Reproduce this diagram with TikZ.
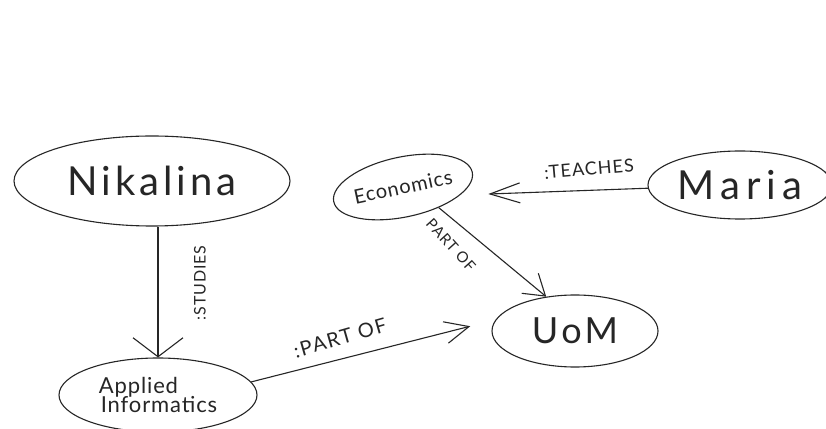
\documentclass[tikz,border=0pt]{standalone}
\usepackage{fontspec}
\setmainfont{Lato}
\usetikzlibrary{shapes.geometric,arrows.meta}
\definecolor{ink}{HTML}{262626}
\newcommand{\fsz}[2]{\fontsize{#1}{#1}\selectfont\addfontfeatures{LetterSpace=#2}}
\tikzset{
  ent/.style={ellipse, draw=ink, line width=1.1pt, inner sep=0pt, text=ink, align=left},
  rel/.style={draw=ink, line width=1.1pt},
  lbl/.style={text=ink, inner sep=1pt},
}
\begin{document}
\begin{tikzpicture}[x=1pt,y=1pt]
  \useasboundingbox[fill=white] (0,0) rectangle (826,428);

  % entities
  \node[ent, minimum width=276, minimum height=90,
        font=\fsz{40}{10}] (nik) at (152,247) {Nikalina};
  \node[ent, minimum width=198, minimum height=74,
        font=\fontsize{22}{22}\selectfont\addfontfeatures{LetterSpace=4}] (app) at (158,33)
        {Applied\\[-3pt]\hspace*{2pt}Informatics};
  \node[ent, minimum width=140, minimum height=60, rotate=12,
        font=\fsz{20}{4}] (eco) at (403,241) {Economics};
  \node[ent, minimum width=184, minimum height=68,
        font=\fsz{40}{15}] (mar) at (740,243) {Maria};
  \node[ent, minimum width=166, minimum height=72,
        font=\fsz{36}{10}] (uom) at (575,97) {UoM};

  % relations
  \draw[rel, -{Straight Barb[length=19pt,width=50pt]}]
    (nik.south -| app.north) -- (app.north);
  \draw[rel, -{Straight Barb[length=24pt,width=22pt]}, shorten >=26pt]
    (app.8) -- (uom.172);
  \draw[rel, -{Straight Barb[length=30pt,width=20pt]}, shorten >=28pt]
    (mar.182) -- (eco.-20);
  \draw[rel, -{Straight Barb[length=20pt,width=26pt]}]
    (eco.-42) -- (uom.130);

  % relation labels
  \node[lbl, rotate=90, font=\fsz{16}{6}] (lstudies) at (200,145) {:STUDIES};
  \node[lbl, rotate=16, font=\fsz{20}{8}] (lpart1) at (340,90) {:PART OF};
  \node[lbl, rotate=5, font=\fsz{18}{6}] (lteach) at (589,259) {:TEACHES};
  \node[lbl, rotate=-48, font=\fsz{15}{6}] (lpart2) at (451,183) {PART OF};
\end{tikzpicture}
\end{document}
